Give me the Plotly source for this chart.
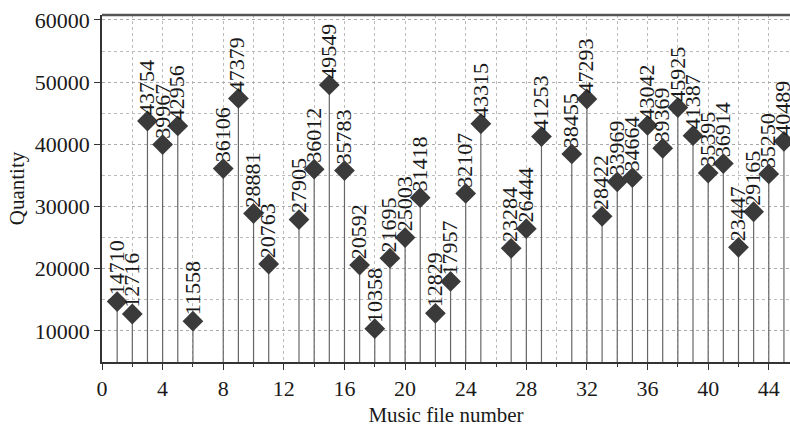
import plotly.graph_objects as go

file_numbers = [1, 2, 3, 4, 5, 6, 8, 9, 10, 11, 13, 14, 15, 16, 17, 18, 19, 20, 21, 22, 23, 24, 25,
                27, 28, 29, 31, 32, 33, 34, 35, 36, 37, 38, 39, 40, 41, 42, 43, 44, 45]
quantities = [14710, 12716, 43754, 39967, 42956, 11558, 36106, 47379, 28881, 20763, 27905, 36012,
              49549, 35783, 20592, 10358, 21695, 25003, 31418, 12829, 17957, 32107, 43315,
              23284, 26444, 41253, 38455, 47293, 28422, 33969, 34664, 43042, 39369, 45925,
              41387, 35395, 36914, 23447, 29165, 35250, 40489]
y_base = 5000

font_family = "Liberation Serif, Times New Roman, serif"

stem_x, stem_y = [], []
for xv, yv in zip(file_numbers, quantities):
    stem_x += [xv, xv, None]
    stem_y += [y_base, yv, None]

fig = go.Figure()
fig.add_trace(go.Scatter(x=stem_x, y=stem_y, mode="lines",
                         line=dict(color="#666666", width=1.2), hoverinfo="skip", showlegend=False))
fig.add_trace(go.Scatter(x=file_numbers, y=quantities, mode="markers",
                         marker=dict(symbol="diamond", size=16, color="#3a3a3a"),
                         showlegend=False))

for xv, yv in zip(file_numbers, quantities):
    fig.add_annotation(x=xv, y=yv, text=str(yv), textangle=-90, showarrow=False,
                       xanchor="center", yanchor="bottom", yshift=4, xshift=-1,
                       font=dict(family=font_family, size=22, color="#1a1a1a"))

fig.update_layout(
    width=790, height=429,
    margin=dict(l=102, r=0, t=15, b=67),
    plot_bgcolor="white", paper_bgcolor="white",
    font=dict(family=font_family, size=22, color="#1a1a1a"),
    xaxis=dict(range=[0, 45.4], tick0=0, dtick=4, ticks="outside", ticklen=6, tickwidth=1.2,
               tickcolor="#333333", showline=True, linecolor="#333333", linewidth=1.5,
               mirror=False, showgrid=True, gridcolor="#bbbbbb", griddash="dot", gridwidth=1,
               zeroline=False, automargin=False, tickformat="d",
               minor=dict(dtick=2, ticks="outside", ticklen=3, tickcolor="#333333",
                          showgrid=True, gridcolor="#bbbbbb", griddash="dot"),
               title=dict(text="Music file number", font=dict(size=21), standoff=7)),
    yaxis=dict(range=[5000, 60800], tick0=0, dtick=10000, ticks="outside", ticklen=6, tickwidth=1.2,
               tickcolor="#333333", showline=True, linecolor="#333333", linewidth=1.5,
               showgrid=True, gridcolor="#aaaaaa", griddash="dot", gridwidth=1, zeroline=False,
               automargin=False, tickformat="d",
               minor=dict(dtick=5000, showgrid=True, gridcolor="#bbbbbb", griddash="dot"),
               title=dict(text="Quantity", font=dict(size=21), standoff=4)),
)
fig.add_shape(type="line", xref="paper", yref="paper", x0=0, x1=1, y0=1, y1=1,
              line=dict(color="#555555", width=2.5))

fig.write_html("out.html", config={"displayModeBar": False},
               post_script="document.body.style.margin='0';document.body.style.overflow='hidden';")
